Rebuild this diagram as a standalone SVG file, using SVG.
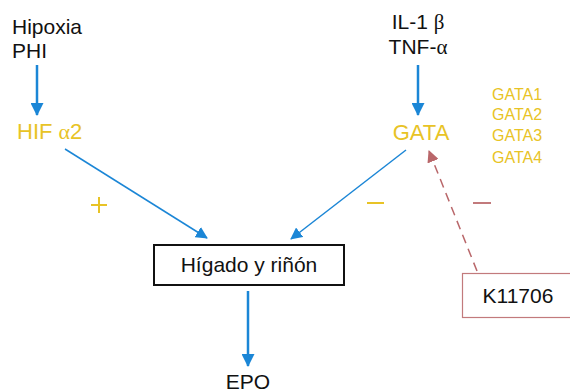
<svg xmlns="http://www.w3.org/2000/svg" width="570" height="392" viewBox="0 0 570 392">
  <defs>
    <marker id="arrowBlue" markerWidth="12" markerHeight="12" refX="11" refY="6" orient="auto" markerUnits="userSpaceOnUse" viewBox="0 0 12 12">
      <path d="M0,0 L12,6 L0,12 z" fill="#1b86d6"/>
    </marker>
    <marker id="arrowBlueBig" markerWidth="13" markerHeight="13" refX="12" refY="6.5" orient="auto" markerUnits="userSpaceOnUse" viewBox="0 0 13 13">
      <path d="M0,0 L13,6.5 L0,13 z" fill="#1b86d6"/>
    </marker>
    <marker id="arrowRose" markerWidth="12" markerHeight="12" refX="11" refY="6" orient="auto" markerUnits="userSpaceOnUse" viewBox="0 0 12 12">
      <path d="M0,0 L12,6 L0,12 z" fill="#b9676a"/>
    </marker>
  </defs>
  <style>
    text { font-family: "Liberation Sans", Arial, Helvetica, sans-serif; }
    .greek { font-family: "Liberation Serif", "Times New Roman", serif; }
    .black { fill: #111111; font-size: 21px; }
    .gold { fill: #e8c326; font-size: 22px; }
    .goldsmall { fill: #e8c326; font-size: 16px; }
    .flow { stroke: #1b86d6; stroke-width: 1.5; fill: none; }
    .flowthick { stroke: #1b86d6; stroke-width: 2.5; fill: none; }
    .sign { stroke-width: 2; fill: none; }
  </style>

  <g id="hipoxia">
    <text class="black" x="12" y="34">Hipoxia</text>
    <text class="black" x="12" y="58">PHI</text>
  </g>

  <g id="il1-tnf">
    <text class="black" x="418" y="29" text-anchor="middle">IL-1 <tspan class="greek">β</tspan></text>
    <text class="black" x="418" y="54" text-anchor="middle">TNF-<tspan class="greek">α</tspan></text>
  </g>

  <g id="hif">
    <text class="gold" x="17" y="139">HIF <tspan class="greek">α</tspan>2</text>
  </g>

  <g id="gata">
    <text class="gold" x="421" y="140" text-anchor="middle">GATA</text>
  </g>

  <g id="gata-list">
    <text class="goldsmall" x="492" y="100">GATA1</text>
    <text class="goldsmall" x="492" y="120">GATA2</text>
    <text class="goldsmall" x="492" y="141">GATA3</text>
    <text class="goldsmall" x="492" y="163">GATA4</text>
  </g>

  <g id="higado">
    <rect x="154" y="245" width="190" height="40" fill="#ffffff" stroke="#111111" stroke-width="2"/>
    <text class="black" x="249" y="272" text-anchor="middle">Hígado y riñón</text>
  </g>

  <g id="k11706">
    <rect x="462.5" y="273.5" width="112" height="44" fill="#ffffff" stroke="#c27a7c" stroke-width="1.2"/>
    <text class="black" x="518" y="303" text-anchor="middle">K11706</text>
  </g>

  <g id="epo">
    <text class="black" x="248" y="389" text-anchor="middle">EPO</text>
  </g>

  <g id="connectors">
    <line class="flowthick" x1="37" y1="65" x2="37" y2="115" marker-end="url(#arrowBlueBig)"/>
    <line class="flowthick" x1="418" y1="65" x2="418" y2="115" marker-end="url(#arrowBlueBig)"/>
    <line class="flow" x1="65" y1="149" x2="207" y2="238" marker-end="url(#arrowBlue)"/>
    <line class="flow" x1="406" y1="150" x2="291" y2="239" marker-end="url(#arrowBlue)"/>
    <line class="flowthick" x1="248" y1="291" x2="248" y2="366" marker-end="url(#arrowBlueBig)"/>
    <line x1="477" y1="271" x2="429" y2="151" stroke="#b9676a" stroke-width="1.5" stroke-dasharray="9,6" marker-end="url(#arrowRose)"/>
  </g>

  <g id="signs">
    <path class="sign" d="M91,205 H107 M99,197 V213" stroke="#e8c326"/>
    <path class="sign" d="M367,203 H384" stroke="#e8c326"/>
    <path class="sign" d="M473,203 H491" stroke="#c27a7c"/>
  </g>
</svg>
